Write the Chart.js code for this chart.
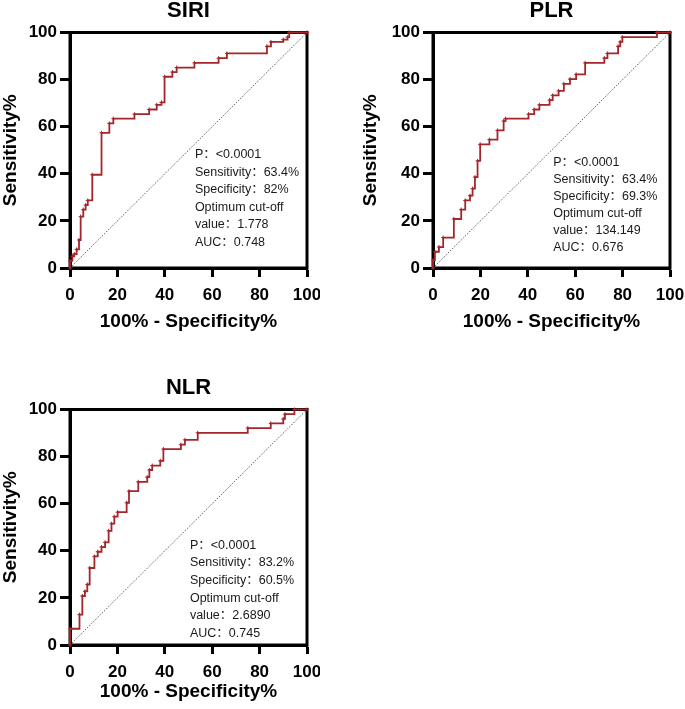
<!DOCTYPE html>
<html>
<head>
<meta charset="utf-8">
<script src="https://cdn.jsdelivr.net/npm/chart.js@4.4.1/dist/chart.umd.min.js"></script>
<style>
  body { margin: 0; background: #fff; width: 685px; height: 709px; position: relative; overflow: hidden; }
  canvas { position: absolute; }
</style>
</head>
<body>
<canvas id="siriChart" width="320" height="340" style="left:0;top:0"></canvas>
<canvas id="plrChart" width="325" height="340" style="left:360px;top:0"></canvas>
<canvas id="nlrChart" width="320" height="340" style="left:0;top:377px"></canvas>
<script>
// Axis ticks (both axes)
const tickValues = [0, 20, 40, 60, 80, 100];

// Reference line
const diagX = [0, 100];
const diagY = [0, 100];

// SIRI ROC curve: 100% - Specificity% / Sensitivity%
const siriFpr = [0, 0, 1.0, 1.8, 2.8, 3.8, 4.5, 5.6, 6.6, 7.5, 9.4, 13.3, 16.6, 18.3, 27.2, 33.4, 36.6, 38.6, 39.9, 43.2, 45.0, 52.5, 62.7, 66.2, 83.1, 84.8, 90.0, 91.8, 92.5, 100];
const siriTpr = [0, 3.0, 5.0, 5.9, 7.9, 11.9, 21.8, 24.8, 26.7, 28.7, 39.6, 57.4, 61.4, 63.4, 65.3, 67.3, 69.3, 70.3, 81.2, 83.2, 85.1, 87.1, 89.1, 91.1, 94.1, 96.0, 97.0, 98.0, 100, 100];
const siriStats = ['P：<0.0001', 'Sensitivity：63.4%', 'Specificity：82%', 'Optimum cut-off', 'value：1.778', 'AUC：0.748'];

// PLR ROC curve
const plrFpr = [0, 0, 0.8, 2.5, 4.3, 8.8, 11.9, 13.6, 15.6, 16.7, 17.7, 18.8, 19.9, 23.8, 27.2, 29.8, 30.6, 40.3, 42.7, 44.9, 49.2, 50.5, 53.0, 55.2, 57.8, 60.4, 64.2, 72.3, 73.6, 78.1, 79.0, 79.9, 94.5, 100];
const plrTpr = [0, 3.3, 6.9, 8.9, 12.9, 20.8, 24.8, 28.7, 30.7, 33.7, 38.6, 45.5, 52.5, 54.5, 58.4, 62.4, 63.4, 65.3, 67.3, 69.3, 71.3, 73.3, 75.2, 78.2, 80.2, 82.2, 87.1, 89.1, 91.1, 94.1, 96.0, 98.0, 100, 100];
const plrStats = ['P：<0.0001', 'Sensitivity：63.4%', 'Specificity：69.3%', 'Optimum cut-off', 'value：134.149', 'AUC：0.676'];

// NLR ROC curve
const nlrFpr = [0, 0, 4.0, 5.2, 6.3, 7.3, 8.3, 10.3, 11.7, 13.3, 14.8, 16.3, 17.5, 18.7, 20.1, 23.9, 24.9, 28.8, 32.6, 33.5, 34.7, 38.1, 39.4, 46.8, 48.5, 53.9, 75.0, 84.7, 90.0, 90.7, 94.7, 100];
const nlrTpr = [0, 6.9, 12.9, 20.8, 22.8, 25.7, 32.7, 37.6, 39.6, 41.6, 43.6, 48.5, 51.5, 54.5, 56.4, 60.4, 65.3, 69.3, 71.3, 74.3, 76.2, 78.2, 83.2, 85.1, 87.1, 90.1, 92.1, 94.1, 96.0, 98.0, 100, 100];
const nlrStats = ['P：<0.0001', 'Sensitivity：83.2%', 'Specificity：60.5%', 'Optimum cut-off', 'value：2.6890', 'AUC：0.745'];

const FONT = "'Liberation Sans', Arial, 'Noto Sans CJK SC', sans-serif";
const RED = '#a3262b';

// box around the plot area (top and right sides included)
const framePlugin = {
    id: 'frame',
    beforeDatasetsDraw(chart) {
        const { ctx, chartArea: a } = chart;
        ctx.save();
        ctx.strokeStyle = '#000';
        ctx.lineWidth = 3;
        ctx.strokeRect(a.left, a.top, a.right - a.left, a.bottom - a.top);
        ctx.restore();
    }
};

// statistics block inside the plot
const statsPlugin = {
    id: 'stats',
    afterDatasetsDraw(chart, args, opts) {
        const { ctx, scales } = chart;
        const x = scales.x.getPixelForValue(opts.x);
        const y = scales.y.getPixelForValue(opts.y);
        ctx.save();
        ctx.fillStyle = '#1a1a1a';
        ctx.font = '12.5px ' + FONT;
        ctx.textAlign = 'left';
        ctx.textBaseline = 'middle';
        opts.lines.forEach((line, i) => ctx.fillText(line, x, y + i * opts.gap));
        ctx.restore();
    }
};

function renderRoc(id, title, fpr, tpr, stats, g) {
    const ctx = document.getElementById(id).getContext('2d');
    const axisCommon = {
        type: 'linear',
        min: 0,
        max: 100,
        afterBuildTicks: s => { s.ticks = tickValues.map(v => ({ value: v })); },
        border: { display: true, color: '#000', width: 3 },
        grid: { drawOnChartArea: false, drawTicks: true, tickWidth: 3, color: '#000' }
    };
    return new Chart(ctx, {
        type: 'scatter',
        data: {
            datasets: [{
                data: fpr.map((x, i) => ({ x: x, y: tpr[i] })),
                showLine: true,
                stepped: 'before',
                borderColor: RED,
                borderWidth: 1.8,
                pointStyle: 'cross',
                pointRadius: 2,
                pointBorderWidth: 1,
                pointBorderColor: RED,
                clip: 4
            }, {
                data: diagX.map((x, i) => ({ x: x, y: diagY[i] })),
                showLine: true,
                borderColor: '#333',
                borderWidth: 0.8,
                borderDash: [1.5, 1.5],
                pointRadius: 0
            }]
        },
        options: {
            responsive: false,
            animation: false,
            layout: { padding: { left: 0, right: g.right, top: 0, bottom: 0 } },
            plugins: {
                legend: { display: false },
                tooltip: { enabled: false },
                title: {
                    display: true,
                    text: title,
                    fullSize: false,
                    color: '#000',
                    font: { family: FONT, size: 22, weight: 'bold', lineHeight: 1 },
                    padding: { top: 0, bottom: 10.5 }
                },
                stats: { x: g.sx, y: g.sy, gap: g.gap, lines: stats }
            },
            scales: {
                x: Object.assign({}, axisCommon, {
                    grid: Object.assign({}, axisCommon.grid, { tickLength: 9 }),
                    ticks: { color: '#000', padding: 8, maxRotation: 0, font: { family: FONT, size: 17, weight: 'bold' } },
                    title: {
                        display: true,
                        text: '100% - Specificity%',
                        color: '#000',
                        font: { family: FONT, size: 19, weight: 'bold', lineHeight: 1.2 },
                        padding: { top: 0, bottom: g.xtb }
                    },
                    afterFit: s => { s.height = 72; s.paddingLeft = 0; s.paddingRight = 0; }
                }),
                y: Object.assign({}, axisCommon, {
                    grid: Object.assign({}, axisCommon.grid, { tickLength: 10 }),
                    ticks: { color: '#000', padding: 3, font: { family: FONT, size: 17, weight: 'bold' } },
                    title: {
                        display: true,
                        text: 'Sensitivity%',
                        color: '#000',
                        font: { family: FONT, size: 19, weight: 'bold', lineHeight: 1.1 },
                        padding: { top: 0, bottom: 0 }
                    },
                    afterFit: s => { s.width = g.yw; s.paddingTop = 0; s.paddingBottom = 0; }
                })
            }
        },
        plugins: [framePlugin, statsPlugin]
    });
}

renderRoc('siriChart', 'SIRI', siriFpr, siriTpr, siriStats,
    { yw: 70, right: 13, xtb: 6.6, sx: 52.7, sy: 48, gap: 17.5 });
renderRoc('plrChart', 'PLR', plrFpr, plrTpr, plrStats,
    { yw: 73, right: 15, xtb: 6.6, sx: 50.7, sy: 44.6, gap: 17 });
renderRoc('nlrChart', 'NLR', nlrFpr, nlrTpr, nlrStats,
    { yw: 70, right: 13, xtb: 13.9, sx: 50.6, sy: 42.3, gap: 17.6 });
</script>
</body>
</html>
